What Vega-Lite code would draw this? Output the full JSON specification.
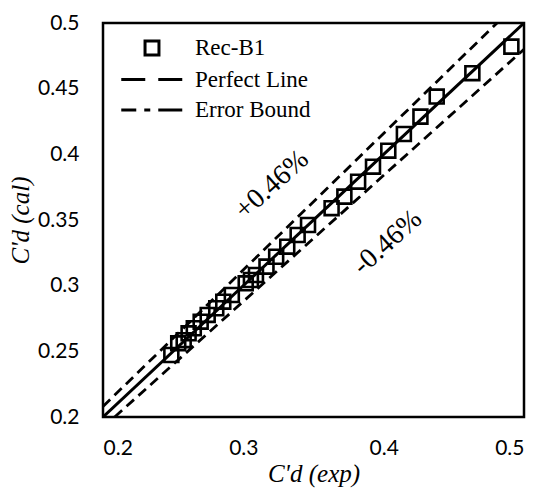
{
  "$schema": "https://vega.github.io/schema/vega-lite/v6.json",
  "width": 421,
  "height": 394,
  "autosize": {"type": "none"},
  "padding": {"left": 103, "top": 23, "right": 19, "bottom": 72},
  "background": "white",
  "config": {
    "view": {"stroke": "black", "strokeWidth": 2.5},
    "axis": {"grid": false, "ticks": false, "domain": false, "labelFont": "Lato", "labelFontSize": 21, "labelColor": "black", "titleColor": "black", "titleFont": "Liberation Serif", "titleFontStyle": "italic", "titleFontWeight": "normal", "titleFontSize": 25}
  },
  "datasets": {
    "pts": [
      {"x": 0.2487, "y": 0.2472}, {"x": 0.2536, "y": 0.2561}, {"x": 0.2575, "y": 0.2585},
      {"x": 0.261, "y": 0.2637}, {"x": 0.2647, "y": 0.2676}, {"x": 0.2696, "y": 0.2726},
      {"x": 0.2746, "y": 0.2777}, {"x": 0.2807, "y": 0.2828}, {"x": 0.2857, "y": 0.2878},
      {"x": 0.2918, "y": 0.2929}, {"x": 0.3017, "y": 0.3018}, {"x": 0.3054, "y": 0.3043},
      {"x": 0.309, "y": 0.3081}, {"x": 0.3165, "y": 0.3145}, {"x": 0.3234, "y": 0.322},
      {"x": 0.3313, "y": 0.3297}, {"x": 0.3387, "y": 0.3386}, {"x": 0.3461, "y": 0.3462},
      {"x": 0.3629, "y": 0.359}, {"x": 0.372, "y": 0.3678}, {"x": 0.3818, "y": 0.3792},
      {"x": 0.3924, "y": 0.3906}, {"x": 0.4033, "y": 0.4028}, {"x": 0.4144, "y": 0.4155},
      {"x": 0.4262, "y": 0.4287}, {"x": 0.4378, "y": 0.444}, {"x": 0.4632, "y": 0.4618},
      {"x": 0.491, "y": 0.482}
    ],
    "perfect": [
      {"x": 0.2, "y": 0.2},
      {"x": 0.5, "y": 0.5}
    ],
    "bounds": [
      {"line": "upper", "x": 0.2, "y": 0.208},
      {"line": "upper", "x": 0.4808, "y": 0.5},
      {"line": "lower", "x": 0.2083, "y": 0.2},
      {"line": "lower", "x": 0.5, "y": 0.48}
    ],
    "notes": [
      {"x": 0.3205, "y": 0.3767, "label": "+0.46%"},
      {"x": 0.4028, "y": 0.3329, "label": "-0.46%"}
    ]
  },
  "layer": [
    {
      "data": {"name": "perfect"},
      "mark": {"type": "line", "color": "black", "strokeWidth": 3, "clip": true},
      "encoding": {
        "x": {"field": "x", "type": "quantitative", "scale": {"domain": [0.2, 0.5], "nice": false, "zero": false},
              "axis": {"values": [0.2, 0.3, 0.4, 0.5], "format": "~g", "labelPadding": 20, "title": "C'd (exp)", "titlePadding": 3}},
        "y": {"field": "y", "type": "quantitative", "scale": {"domain": [0.2, 0.5], "nice": false, "zero": false},
              "axis": {"values": [0.2, 0.25, 0.3, 0.35, 0.4, 0.45, 0.5], "format": "~g", "labelPadding": 24, "title": "C'd (cal)", "titlePadding": 4}}
      }
    },
    {
      "data": {"name": "bounds"},
      "mark": {"type": "line", "color": "black", "strokeWidth": 2.8, "strokeDash": [10, 6], "clip": true},
      "encoding": {
        "x": {"field": "x", "type": "quantitative"},
        "y": {"field": "y", "type": "quantitative"},
        "detail": {"field": "line"}
      }
    },
    {
      "data": {"name": "pts"},
      "mark": {"type": "point", "filled": false, "stroke": "black", "strokeWidth": 2.6, "size": 420, "opacity": 1},
      "encoding": {
        "x": {"field": "x", "type": "quantitative"},
        "y": {"field": "y", "type": "quantitative"},
        "shape": {"datum": "Rec-B1", "type": "nominal",
          "scale": {"domain": ["Rec-B1", "Perfect Line", "Error Bound"], "range": ["M-0.68,-0.68H0.68V0.68H-0.68Z", "M-3,0H3", "M-3,0H3"]},
          "legend": {
            "title": null, "orient": "none", "legendX": 37, "legendY": 13,
            "labelFont": "Liberation Serif", "labelFontSize": 23, "labelColor": "black",
            "labelOffset": 31, "rowPadding": 6.5, "symbolSize": 420,
            "symbolStrokeColor": "black", "symbolFillColor": "transparent", "symbolStrokeWidth": 3
          }
        },
        "strokeDash": {"datum": "Rec-B1", "type": "nominal",
          "scale": {"domain": ["Rec-B1", "Perfect Line", "Error Bound"], "range": [[1, 0], [24, 13, 24], [15, 8, 6, 8, 24]]}
        }
      }
    },
    {
      "data": {"name": "notes"},
      "mark": {"type": "text", "font": "Liberation Serif", "fontSize": 28, "angle": -42, "color": "black", "align": "center", "baseline": "middle"},
      "encoding": {
        "x": {"field": "x", "type": "quantitative"},
        "y": {"field": "y", "type": "quantitative"},
        "text": {"field": "label"}
      }
    }
  ]
}
